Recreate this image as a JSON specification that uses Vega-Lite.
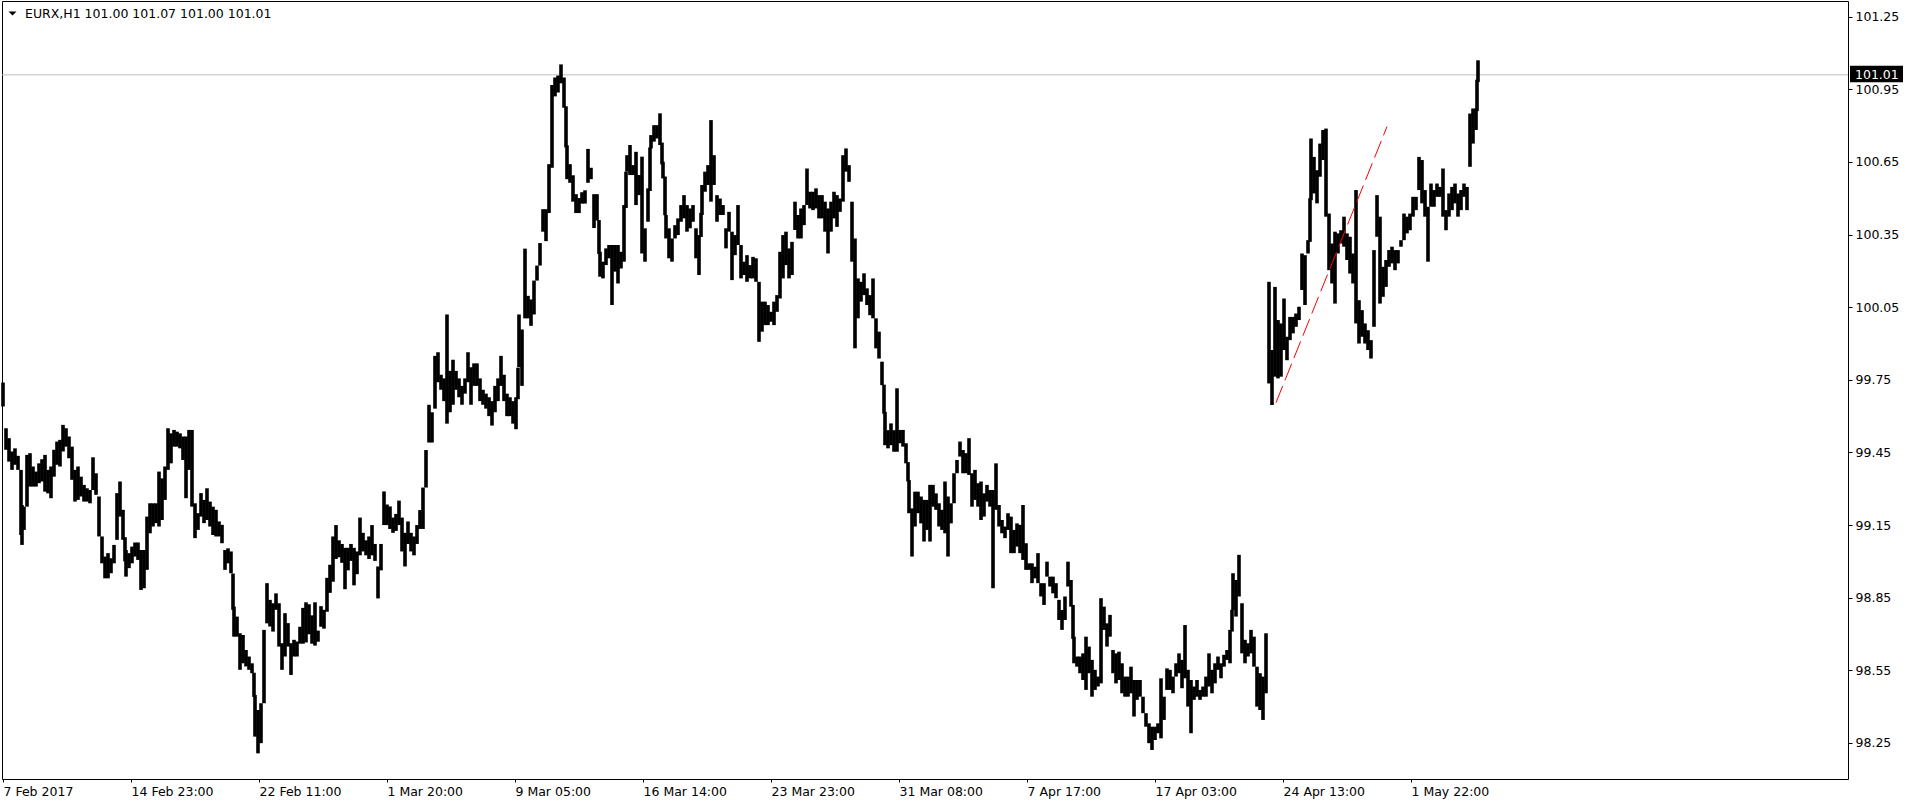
{
"$schema":"https://vega.github.io/schema/vega-lite/v6.json",
"width":1846,"height":778,
"autosize":{"type":"none"},
"padding":{"left":2,"top":1,"right":60,"bottom":28},
"background":"white",
"config":{"view":{"stroke":"#000000","strokeWidth":1},"font":"DejaVu Sans"},
"datasets":{
"bars":[
{"bar":0,"high":99.739,"low":99.64},{"bar":3,"high":99.55,"low":99.461},{"bar":6,"high":99.509,"low":99.412},{"bar":9,"high":99.454,"low":99.378},{"bar":12,"high":99.467,"low":99.399},{"bar":15,"high":99.436,"low":99.378},{"bar":18,"high":99.378,"low":99.109},{"bar":19,"high":99.233,"low":99.068},{"bar":21,"high":99.226,"low":99.13},{"bar":24,"high":99.44,"low":99.226},{"bar":27,"high":99.447,"low":99.309},{"bar":30,"high":99.392,"low":99.309},{"bar":33,"high":99.371,"low":99.309},{"bar":36,"high":99.405,"low":99.323},{"bar":39,"high":99.422,"low":99.33},{"bar":42,"high":99.44,"low":99.288},{"bar":45,"high":99.378,"low":99.281},{"bar":48,"high":99.392,"low":99.261},{"bar":51,"high":99.461,"low":99.35},{"bar":54,"high":99.495,"low":99.399},{"bar":57,"high":99.502,"low":99.392},{"bar":60,"high":99.564,"low":99.454},{"bar":63,"high":99.55,"low":99.474},{"bar":66,"high":99.516,"low":99.426},{"bar":69,"high":99.474,"low":99.337},{"bar":72,"high":99.378,"low":99.247},{"bar":75,"high":99.392,"low":99.254},{"bar":78,"high":99.35,"low":99.268},{"bar":81,"high":99.316,"low":99.247},{"bar":84,"high":99.302,"low":99.247},{"bar":87,"high":99.295,"low":99.24},{"bar":90,"high":99.43,"low":99.295},{"bar":93,"high":99.364,"low":99.275},{"bar":96,"high":99.268,"low":99.103},{"bar":99,"high":99.103,"low":98.992},{"bar":102,"high":99.02,"low":98.93},{"bar":105,"high":99.034,"low":98.93},{"bar":108,"high":99.013,"low":98.951},{"bar":111,"high":99.068,"low":98.992},{"bar":114,"high":99.282,"low":99.089},{"bar":117,"high":99.33,"low":99.185},{"bar":120,"high":99.213,"low":99.089},{"bar":122,"high":99.1,"low":99.0},{"bar":123,"high":99.047,"low":98.937},{"bar":126,"high":99.034,"low":98.972},{"bar":129,"high":99.061,"low":98.992},{"bar":132,"high":99.078,"low":99.02},{"bar":135,"high":99.078,"low":99.006},{"bar":138,"high":99.047,"low":98.882},{"bar":141,"high":99.047,"low":98.889},{"bar":144,"high":99.185,"low":98.965},{"bar":147,"high":99.24,"low":99.116},{"bar":150,"high":99.24,"low":99.144},{"bar":153,"high":99.24,"low":99.158},{"bar":156,"high":99.371,"low":99.144},{"bar":159,"high":99.343,"low":99.171},{"bar":162,"high":99.392,"low":99.254},{"bar":165,"high":99.55,"low":99.378},{"bar":168,"high":99.529,"low":99.405},{"bar":171,"high":99.543,"low":99.474},{"bar":174,"high":99.536,"low":99.474},{"bar":177,"high":99.529,"low":99.467},{"bar":180,"high":99.516,"low":99.419},{"bar":183,"high":99.516,"low":99.261},{"bar":186,"high":99.543,"low":99.378},{"bar":189,"high":99.543,"low":99.226},{"bar":192,"high":99.24,"low":99.096},{"bar":195,"high":99.199,"low":99.13},{"bar":198,"high":99.282,"low":99.185},{"bar":201,"high":99.254,"low":99.158},{"bar":204,"high":99.302,"low":99.171},{"bar":207,"high":99.247,"low":99.144},{"bar":210,"high":99.226,"low":99.109},{"bar":213,"high":99.213,"low":99.103},{"bar":216,"high":99.165,"low":99.103},{"bar":219,"high":99.151,"low":99.075},{"bar":222,"high":99.047,"low":98.965},{"bar":225,"high":99.054,"low":98.992},{"bar":228,"high":99.041,"low":98.951},{"bar":230,"high":98.95,"low":98.8},{"bar":231,"high":98.813,"low":98.689},{"bar":234,"high":98.772,"low":98.689},{"bar":237,"high":98.703,"low":98.552},{"bar":240,"high":98.696,"low":98.579},{"bar":243,"high":98.634,"low":98.566},{"bar":246,"high":98.607,"low":98.552},{"bar":249,"high":98.579,"low":98.538},{"bar":251,"high":98.54,"low":98.44},{"bar":252,"high":98.448,"low":98.276},{"bar":255,"high":98.386,"low":98.207},{"bar":258,"high":98.414,"low":98.249},{"bar":261,"high":98.717,"low":98.414},{"bar":264,"high":98.91,"low":98.744},{"bar":267,"high":98.841,"low":98.731},{"bar":270,"high":98.827,"low":98.71},{"bar":273,"high":98.868,"low":98.8},{"bar":276,"high":98.827,"low":98.648},{"bar":279,"high":98.662,"low":98.552},{"bar":282,"high":98.786,"low":98.607},{"bar":285,"high":98.745,"low":98.648},{"bar":288,"high":98.662,"low":98.531},{"bar":291,"high":98.676,"low":98.607},{"bar":294,"high":98.669,"low":98.607},
{"bar":297,"high":98.73,"low":98.66},{"bar":300,"high":98.808,"low":98.66},{"bar":303,"high":98.831,"low":98.665},{"bar":306,"high":98.823,"low":98.699},{"bar":309,"high":98.777,"low":98.66},{"bar":312,"high":98.831,"low":98.652},{"bar":315,"high":98.714,"low":98.668},{"bar":318,"high":98.815,"low":98.73},{"bar":321,"high":98.8,"low":98.722},{"bar":324,"high":98.932,"low":98.792},{"bar":327,"high":98.986,"low":98.87},{"bar":330,"high":99.103,"low":98.916},{"bar":333,"high":99.15,"low":99.01},{"bar":336,"high":99.087,"low":99.017},{"bar":339,"high":99.072,"low":98.994},{"bar":342,"high":99.056,"low":98.885},{"bar":345,"high":99.056,"low":98.963},{"bar":348,"high":99.072,"low":99.002},{"bar":351,"high":99.056,"low":98.901},{"bar":354,"high":99.041,"low":98.947},{"bar":357,"high":99.181,"low":99.025},{"bar":360,"high":99.118,"low":99.041},{"bar":363,"high":99.087,"low":99.025},{"bar":366,"high":99.103,"low":99.01},{"bar":369,"high":99.15,"low":99.025},{"bar":372,"high":99.072,"low":99.002},{"bar":375,"high":98.979,"low":98.847},{"bar":378,"high":99.072,"low":98.963},{"bar":381,"high":99.289,"low":99.15},{"bar":384,"high":99.235,"low":99.15},{"bar":387,"high":99.227,"low":99.134},{"bar":390,"high":99.181,"low":99.118},{"bar":393,"high":99.196,"low":99.126},{"bar":396,"high":99.251,"low":99.15},{"bar":399,"high":99.181,"low":99.041},{"bar":402,"high":99.118,"low":98.979},{"bar":405,"high":99.165,"low":99.072},{"bar":408,"high":99.118,"low":99.041},{"bar":411,"high":99.103,"low":99.025},{"bar":414,"high":99.15,"low":99.072},{"bar":417,"high":99.212,"low":99.134},{"bar":420,"high":99.305,"low":99.134},{"bar":423,"high":99.46,"low":99.305},{"bar":426,"high":99.647,"low":99.491},{"bar":429,"high":99.616,"low":99.491},{"bar":432,"high":99.849,"low":99.631},{"bar":435,"high":99.864,"low":99.74},{"bar":438,"high":99.771,"low":99.709},{"bar":441,"high":99.756,"low":99.662},{"bar":444,"high":100.02,"low":99.569},{"bar":447,"high":99.787,"low":99.616},{"bar":450,"high":99.833,"low":99.647},{"bar":453,"high":99.787,"low":99.709},{"bar":456,"high":99.756,"low":99.678},{"bar":459,"high":99.725,"low":99.647},{"bar":462,"high":99.756,"low":99.693},{"bar":465,"high":99.864,"low":99.74},{"bar":468,"high":99.802,"low":99.647},{"bar":471,"high":99.818,"low":99.725},{"bar":474,"high":99.818,"low":99.725},{"bar":477,"high":99.756,"low":99.662},{"bar":480,"high":99.709,"low":99.647},{"bar":483,"high":99.693,"low":99.631},{"bar":486,"high":99.678,"low":99.6},{"bar":489,"high":99.662,"low":99.561},{"bar":492,"high":99.725,"low":99.616},{"bar":495,"high":99.756,"low":99.662},{"bar":498,"high":99.849,"low":99.725},{"bar":501,"high":99.771,"low":99.662},{"bar":504,"high":99.693,"low":99.6},{"bar":507,"high":99.678,"low":99.6},{"bar":510,"high":99.662,"low":99.569},{"bar":513,"high":99.678,"low":99.546},{"bar":515,"high":99.8,"low":99.67},{"bar":516,"high":100.02,"low":99.802},{"bar":519,"high":99.958,"low":99.725},{"bar":522,"high":100.292,"low":100.004},{"bar":525,"high":100.097,"low":100.004},{"bar":528,"high":100.082,"low":99.973},{"bar":531,"high":100.16,"low":100.02},{"bar":534,"high":100.222,"low":100.16},{"bar":537,"high":100.315,"low":100.222},{"bar":540,"high":100.455,"low":100.362},{"bar":543,"high":100.455,"low":100.323},{"bar":546,"high":100.641,"low":100.439},{"bar":549,"high":100.968,"low":100.626},{"bar":552,"high":100.999,"low":100.921},{"bar":555,"high":101.007,"low":100.937},{"bar":558,"high":101.053,"low":100.975},{"bar":561,"high":100.999,"low":100.874},{"bar":563,"high":100.88,"low":100.71},{"bar":564,"high":100.719,"low":100.579},{"bar":567,"high":100.641,"low":100.564},{"bar":570,"high":100.595,"low":100.486},{"bar":573,"high":100.517,"low":100.439},{"bar":576,"high":100.501,"low":100.439},{"bar":579,"high":100.525,"low":100.478},{"bar":582,"high":100.533,"low":100.478},{"bar":585,"high":100.704,"low":100.564},{"bar":588,"high":100.626,"low":100.579},{"bar":591,"high":100.517,"low":100.377},{"bar":594,"high":100.517,"low":100.408},{"bar":596,"high":100.41,"low":100.27},
{"bar":597,"high":100.279,"low":100.176},{"bar":600,"high":100.238,"low":100.169},{"bar":603,"high":100.293,"low":100.224},{"bar":606,"high":100.307,"low":100.252},{"bar":609,"high":100.307,"low":100.059},{"bar":612,"high":100.307,"low":100.197},{"bar":615,"high":100.307,"low":100.148},{"bar":618,"high":100.279,"low":100.21},{"bar":621,"high":100.472,"low":100.238},{"bar":623,"high":100.61,"low":100.46},{"bar":624,"high":100.678,"low":100.61},{"bar":627,"high":100.72,"low":100.596},{"bar":630,"high":100.637,"low":100.596},{"bar":633,"high":100.692,"low":100.472},{"bar":636,"high":100.596,"low":100.513},{"bar":639,"high":100.672,"low":100.272},{"bar":642,"high":100.376,"low":100.238},{"bar":645,"high":100.541,"low":100.403},{"bar":647,"high":100.71,"low":100.53},{"bar":648,"high":100.761,"low":100.706},{"bar":651,"high":100.802,"low":100.734},{"bar":654,"high":100.802,"low":100.747},{"bar":657,"high":100.851,"low":100.72},{"bar":659,"high":100.73,"low":100.64},{"bar":660,"high":100.651,"low":100.582},{"bar":662,"high":100.59,"low":100.43},{"bar":663,"high":100.431,"low":100.334},{"bar":666,"high":100.376,"low":100.252},{"bar":669,"high":100.334,"low":100.238},{"bar":672,"high":100.389,"low":100.334},{"bar":675,"high":100.417,"low":100.348},{"bar":678,"high":100.472,"low":100.403},{"bar":681,"high":100.513,"low":100.417},{"bar":684,"high":100.472,"low":100.362},{"bar":687,"high":100.458,"low":100.376},{"bar":690,"high":100.472,"low":100.403},{"bar":693,"high":100.376,"low":100.252},{"bar":696,"high":100.348,"low":100.183},{"bar":698,"high":100.44,"low":100.34},{"bar":699,"high":100.555,"low":100.431},{"bar":702,"high":100.61,"low":100.527},{"bar":705,"high":100.637,"low":100.555},{"bar":708,"high":100.823,"low":100.486},{"bar":711,"high":100.678,"low":100.555},{"bar":714,"high":100.513,"low":100.403},{"bar":717,"high":100.499,"low":100.431},{"bar":720,"high":100.472,"low":100.431},{"bar":723,"high":100.376,"low":100.293},{"bar":726,"high":100.444,"low":100.362},{"bar":729,"high":100.362,"low":100.162},{"bar":732,"high":100.348,"low":100.265},{"bar":735,"high":100.472,"low":100.307},{"bar":738,"high":100.307,"low":100.169},{"bar":741,"high":100.238,"low":100.183},{"bar":744,"high":100.265,"low":100.155},{"bar":747,"high":100.224,"low":100.169},{"bar":750,"high":100.258,"low":100.169},{"bar":753,"high":100.252,"low":100.155},{"bar":756,"high":100.155,"low":99.907},{"bar":759,"high":100.073,"low":99.949},{"bar":762,"high":100.073,"low":99.976},{"bar":765,"high":100.059,"low":99.976},{"bar":768,"high":100.031,"low":99.99},{"bar":771,"high":100.073,"low":99.976},{"bar":774,"high":100.1,"low":100.031},{"bar":777,"high":100.279,"low":100.086},{"bar":780,"high":100.348,"low":100.169},{"bar":783,"high":100.362,"low":100.224},{"bar":786,"high":100.293,"low":100.169},{"bar":789,"high":100.32,"low":100.183},{"bar":792,"high":100.486,"low":100.369},{"bar":795,"high":100.431,"low":100.334},{"bar":798,"high":100.458,"low":100.334},{"bar":801,"high":100.472,"low":100.389},{"bar":804,"high":100.623,"low":100.472},{"bar":807,"high":100.527,"low":100.458},{"bar":810,"high":100.527,"low":100.451},{"bar":813,"high":100.541,"low":100.458},{"bar":816,"high":100.513,"low":100.417},{"bar":819,"high":100.513,"low":100.417},{"bar":822,"high":100.486,"low":100.362},{"bar":825,"high":100.458,"low":100.272},{"bar":828,"high":100.486,"low":100.362},{"bar":831,"high":100.527,"low":100.417},{"bar":834,"high":100.513,"low":100.382},{"bar":837,"high":100.499,"low":100.444},{"bar":840,"high":100.678,"low":100.486},{"bar":843,"high":100.706,"low":100.61},{"bar":846,"high":100.637,"low":100.568},{"bar":849,"high":100.486,"low":100.238},{"bar":852,"high":100.334,"low":99.88},{"bar":855,"high":100.169,"low":100.004},{"bar":858,"high":100.155,"low":100.073},{"bar":861,"high":100.19,"low":100.1},{"bar":864,"high":100.128,"low":100.059},{"bar":867,"high":100.1,"low":100.017},{"bar":870,"high":100.169,"low":100.004},{"bar":873,"high":100.004,"low":99.88},{"bar":876,"high":99.949,"low":99.838},{"bar":879,"high":99.825,"low":99.728},{"bar":881,"high":99.73,"low":99.61},{"bar":882,"high":99.618,"low":99.48},{"bar":885,"high":99.542,"low":99.467},{"bar":888,"high":99.57,"low":99.48},{"bar":891,"high":99.542,"low":99.453},{"bar":894,"high":99.715,"low":99.453},
{"bar":897,"high":99.543,"low":99.488},{"bar":900,"high":99.543,"low":99.474},{"bar":903,"high":99.488,"low":99.405},{"bar":905,"high":99.41,"low":99.33},{"bar":906,"high":99.336,"low":99.199},{"bar":909,"high":99.219,"low":99.02},{"bar":912,"high":99.288,"low":99.144},{"bar":915,"high":99.288,"low":99.199},{"bar":918,"high":99.268,"low":99.157},{"bar":921,"high":99.254,"low":99.082},{"bar":924,"high":99.254,"low":99.13},{"bar":927,"high":99.316,"low":99.082},{"bar":930,"high":99.316,"low":99.226},{"bar":933,"high":99.281,"low":99.213},{"bar":936,"high":99.24,"low":99.144},{"bar":939,"high":99.213,"low":99.13},{"bar":942,"high":99.33,"low":99.116},{"bar":945,"high":99.268,"low":99.02},{"bar":948,"high":99.24,"low":99.157},{"bar":951,"high":99.364,"low":99.24},{"bar":954,"high":99.419,"low":99.364},{"bar":957,"high":99.495,"low":99.433},{"bar":960,"high":99.46,"low":99.364},{"bar":963,"high":99.447,"low":99.364},{"bar":966,"high":99.509,"low":99.357},{"bar":969,"high":99.364,"low":99.226},{"bar":972,"high":99.378,"low":99.254},{"bar":975,"high":99.323,"low":99.226},{"bar":978,"high":99.33,"low":99.171},{"bar":981,"high":99.281,"low":99.185},{"bar":984,"high":99.316,"low":99.247},{"bar":987,"high":99.295,"low":99.226},{"bar":990,"high":99.295,"low":98.889},{"bar":993,"high":99.405,"low":99.213},{"bar":996,"high":99.233,"low":99.144},{"bar":999,"high":99.171,"low":99.116},{"bar":1002,"high":99.144,"low":99.096},{"bar":1005,"high":99.199,"low":99.13},{"bar":1008,"high":99.185,"low":99.034},{"bar":1011,"high":99.13,"low":99.034},{"bar":1014,"high":99.157,"low":99.061},{"bar":1017,"high":99.151,"low":99.034},{"bar":1020,"high":99.233,"low":99.006},{"bar":1023,"high":99.075,"low":98.965},{"bar":1026,"high":98.992,"low":98.965},{"bar":1029,"high":98.992,"low":98.91},{"bar":1032,"high":98.978,"low":98.93},{"bar":1035,"high":99.034,"low":98.91},{"bar":1038,"high":98.91,"low":98.855},{"bar":1041,"high":98.91,"low":98.82},{"bar":1044,"high":98.999,"low":98.937},{"bar":1047,"high":98.937,"low":98.896},{"bar":1050,"high":98.937,"low":98.868},{"bar":1053,"high":98.91,"low":98.848},{"bar":1056,"high":98.841,"low":98.758},{"bar":1059,"high":98.799,"low":98.717},{"bar":1062,"high":98.855,"low":98.758},{"bar":1065,"high":98.999,"low":98.896},{"bar":1068,"high":98.923,"low":98.813},{"bar":1070,"high":98.82,"low":98.68},{"bar":1071,"high":98.689,"low":98.579},{"bar":1074,"high":98.607,"low":98.565},{"bar":1077,"high":98.607,"low":98.538},{"bar":1080,"high":98.62,"low":98.51},{"bar":1083,"high":98.689,"low":98.469},{"bar":1086,"high":98.648,"low":98.538},{"bar":1089,"high":98.593,"low":98.441},{"bar":1092,"high":98.552,"low":98.469},{"bar":1095,"high":98.524,"low":98.483},{"bar":1098,"high":98.848,"low":98.496},{"bar":1101,"high":98.813,"low":98.717},{"bar":1104,"high":98.744,"low":98.648},{"bar":1107,"high":98.779,"low":98.689},{"bar":1110,"high":98.634,"low":98.538},{"bar":1113,"high":98.62,"low":98.496},{"bar":1116,"high":98.627,"low":98.51},{"bar":1119,"high":98.579,"low":98.455},{"bar":1122,"high":98.524,"low":98.441},{"bar":1125,"high":98.524,"low":98.441},{"bar":1128,"high":98.565,"low":98.455},{"bar":1131,"high":98.51,"low":98.359},{"bar":1134,"high":98.51,"low":98.428},{"bar":1137,"high":98.51,"low":98.441},{"bar":1140,"high":98.441,"low":98.373},{"bar":1143,"high":98.373,"low":98.317},{"bar":1146,"high":98.331,"low":98.249},{"bar":1149,"high":98.317,"low":98.221},{"bar":1152,"high":98.317,"low":98.262},{"bar":1155,"high":98.331,"low":98.29},{"bar":1158,"high":98.517,"low":98.269},{"bar":1161,"high":98.441,"low":98.345},{"bar":1164,"high":98.558,"low":98.469},{"bar":1167,"high":98.552,"low":98.469},{"bar":1170,"high":98.524,"low":98.455},{"bar":1173,"high":98.579,"low":98.524},{"bar":1176,"high":98.62,"low":98.538},{"bar":1179,"high":98.593,"low":98.476},{"bar":1182,"high":98.737,"low":98.517},{"bar":1185,"high":98.552,"low":98.4},{"bar":1188,"high":98.51,"low":98.29},{"bar":1191,"high":98.483,"low":98.428},{"bar":1194,"high":98.51,"low":98.441},{"bar":1197,"high":98.469,"low":98.428},{"bar":1200,"high":98.483,"low":98.441},{"bar":1203,"high":98.524,"low":98.441},{"bar":1206,"high":98.62,"low":98.483},{"bar":1209,"high":98.552,"low":98.455},{"bar":1212,"high":98.579,"low":98.496},{"bar":1215,"high":98.607,"low":98.552},{"bar":1218,"high":98.579,"low":98.517},{"bar":1221,"high":98.614,"low":98.565},{"bar":1224,"high":98.634,"low":98.593},{"bar":1227,"high":98.717,"low":98.579},{"bar":1229,"high":98.8,"low":98.71},{"bar":1230,"high":98.951,"low":98.799},{"bar":1233,"high":98.923,"low":98.772},{"bar":1236,"high":99.027,"low":98.855},{"bar":1239,"high":98.827,"low":98.62},{"bar":1242,"high":98.676,"low":98.579},{"bar":1245,"high":98.662,"low":98.607},{"bar":1248,"high":98.717,"low":98.62},{"bar":1251,"high":98.689,"low":98.565},{"bar":1254,"high":98.565,"low":98.4},{"bar":1257,"high":98.538,"low":98.386},{"bar":1260,"high":98.524,"low":98.345},{"bar":1263,"high":98.703,"low":98.455},
{"bar":1266,"high":100.155,"low":99.735},{"bar":1269,"high":99.873,"low":99.646},{"bar":1272,"high":100.134,"low":99.763},{"bar":1275,"high":99.997,"low":99.756},{"bar":1278,"high":99.983,"low":99.763},{"bar":1281,"high":100.086,"low":99.873},{"bar":1284,"high":99.928,"low":99.831},{"bar":1287,"high":100.01,"low":99.914},{"bar":1290,"high":100.01,"low":99.942},{"bar":1293,"high":100.024,"low":99.969},{"bar":1296,"high":100.052,"low":99.997},{"bar":1299,"high":100.272,"low":100.121},{"bar":1302,"high":100.265,"low":100.059},{"bar":1305,"high":100.327,"low":100.272},{"bar":1307,"high":100.5,"low":100.32},{"bar":1308,"high":100.747,"low":100.492},{"bar":1311,"high":100.671,"low":100.52},{"bar":1314,"high":100.616,"low":100.479},{"bar":1317,"high":100.726,"low":100.589},{"bar":1320,"high":100.782,"low":100.658},{"bar":1323,"high":100.788,"low":100.424},{"bar":1326,"high":100.437,"low":100.203},{"bar":1329,"high":100.313,"low":100.148},{"bar":1332,"high":100.362,"low":100.065},{"bar":1335,"high":100.355,"low":100.272},{"bar":1338,"high":100.368,"low":100.313},{"bar":1341,"high":100.424,"low":100.3},{"bar":1344,"high":100.355,"low":100.245},{"bar":1347,"high":100.341,"low":100.189},{"bar":1350,"high":100.272,"low":100.148},{"bar":1353,"high":100.534,"low":99.983},{"bar":1356,"high":100.079,"low":99.9},{"bar":1359,"high":100.038,"low":99.928},{"bar":1362,"high":99.983,"low":99.9},{"bar":1365,"high":99.955,"low":99.873},{"bar":1368,"high":99.914,"low":99.838},{"bar":1371,"high":100.286,"low":99.969},{"bar":1374,"high":100.513,"low":100.341},{"bar":1377,"high":100.424,"low":100.065},{"bar":1380,"high":100.217,"low":100.093},{"bar":1383,"high":100.245,"low":100.134},{"bar":1386,"high":100.286,"low":100.217},{"bar":1389,"high":100.3,"low":100.231},{"bar":1392,"high":100.286,"low":100.203},{"bar":1395,"high":100.286,"low":100.231},{"bar":1398,"high":100.327,"low":100.3},{"bar":1401,"high":100.437,"low":100.327},{"bar":1404,"high":100.424,"low":100.355},{"bar":1407,"high":100.437,"low":100.368},{"bar":1410,"high":100.506,"low":100.424},{"bar":1413,"high":100.506,"low":100.451},{"bar":1416,"high":100.671,"low":100.534},{"bar":1419,"high":100.658,"low":100.479},{"bar":1422,"high":100.534,"low":100.424},{"bar":1425,"high":100.465,"low":100.238},{"bar":1428,"high":100.561,"low":100.465},{"bar":1431,"high":100.534,"low":100.465},{"bar":1434,"high":100.561,"low":100.506},{"bar":1437,"high":100.547,"low":100.506},{"bar":1440,"high":100.623,"low":100.424},{"bar":1443,"high":100.451,"low":100.368},{"bar":1446,"high":100.52,"low":100.424},{"bar":1449,"high":100.547,"low":100.451},{"bar":1452,"high":100.561,"low":100.479},{"bar":1455,"high":100.52,"low":100.424},{"bar":1458,"high":100.534,"low":100.451},{"bar":1461,"high":100.561,"low":100.506},{"bar":1464,"high":100.547,"low":100.451},{"bar":1467,"high":100.85,"low":100.63},{"bar":1470,"high":100.871,"low":100.726},{"bar":1473,"high":100.871,"low":100.782},{"bar":1474,"high":100.99,"low":100.86},{"bar":1475,"high":101.07,"low":100.98}
],
"trend":[{"bar":1273,"price":99.656},{"bar":1384,"price":100.796}],
"one":[{}]
},
"layer":[
{"data":{"name":"one"},"mark":{"type":"rule","color":"#c0c0c0","strokeWidth":1},"encoding":{"y":{"datum":101.01,"type":"quantitative"}}},
{"data":{"name":"bars"},
 "mark":{"type":"rule","color":"#000000","strokeWidth":3.6},
 "encoding":{
  "x":{"field":"bar","type":"quantitative","scale":{"domain":[-1,1845],"nice":false,"zero":false},
       "axis":{"title":null,"grid":false,"domain":false,"tickColor":"#000000","tickSize":3,"values":[0,128,256,384,512,640,768,896,1024,1152,1280,1408],
               "labelExpr":"['7 Feb 2017','14 Feb 23:00','22 Feb 11:00','1 Mar 20:00','9 Mar 05:00','16 Mar 14:00','23 Mar 23:00','31 Mar 08:00','7 Apr 17:00','17 Apr 03:00','24 Apr 13:00','1 May 22:00'][round(datum.value/128)]",
               "labelAlign":"left","labelBaseline":"top","labelPadding":3,"labelFont":"DejaVu Sans","labelFontSize":12.5,"labelColor":"#000000","labelFlush":false,"labelOverlap":false,"labelBound":false}},
  "y":{"field":"low","type":"quantitative","scale":{"domain":[98.101,101.315],"nice":false,"zero":false},
       "axis":{"orient":"right","title":null,"grid":false,"domain":false,"tickColor":"#000000","tickSize":4,"values":[98.25,98.55,98.85,99.15,99.45,99.75,100.05,100.35,100.65,100.95,101.25],"format":".2f",
               "labelAlign":"left","labelBaseline":"middle","labelPadding":3,"labelFont":"DejaVu Sans","labelFontSize":12.5,"labelColor":"#000000","labelFlush":false,"labelOverlap":false,"labelBound":false}},
  "y2":{"field":"high"}}},
{"data":{"name":"trend"},
 "mark":{"type":"line","color":"#ff0000","strokeWidth":1,"strokeDash":[18,6]},
 "encoding":{"x":{"field":"bar","type":"quantitative"},"y":{"field":"price","type":"quantitative"}}},
{"data":{"name":"one"},"mark":{"type":"point","shape":"M-1,-0.5L1,-0.5L0,0.5Z","filled":true,"color":"#000000","size":64,"opacity":1,"strokeWidth":0},
 "encoding":{"x":{"datum":9.5,"type":"quantitative"},"y":{"datum":101.263,"type":"quantitative"}}},
{"data":{"name":"one"},"mark":{"type":"text","text":"EURX,H1  101.00 101.07 101.00 101.01","align":"left","baseline":"middle","font":"DejaVu Sans","fontSize":12.5,"color":"#000000"},
 "encoding":{"x":{"datum":22,"type":"quantitative"},"y":{"datum":101.26,"type":"quantitative"}}},
{"data":{"name":"one"},"mark":{"type":"rect","color":"#000000","clip":false},
 "encoding":{"x":{"datum":1847,"type":"quantitative"},"x2":{"datum":1900},"y":{"datum":101.048,"type":"quantitative"},"y2":{"datum":100.979}}},
{"data":{"name":"one"},"mark":{"type":"text","text":"101.01","align":"left","baseline":"middle","font":"DejaVu Sans","fontSize":12.5,"color":"#ffffff","clip":false},
 "encoding":{"x":{"datum":1852,"type":"quantitative"},"y":{"datum":101.01,"type":"quantitative"}}}
]
}
